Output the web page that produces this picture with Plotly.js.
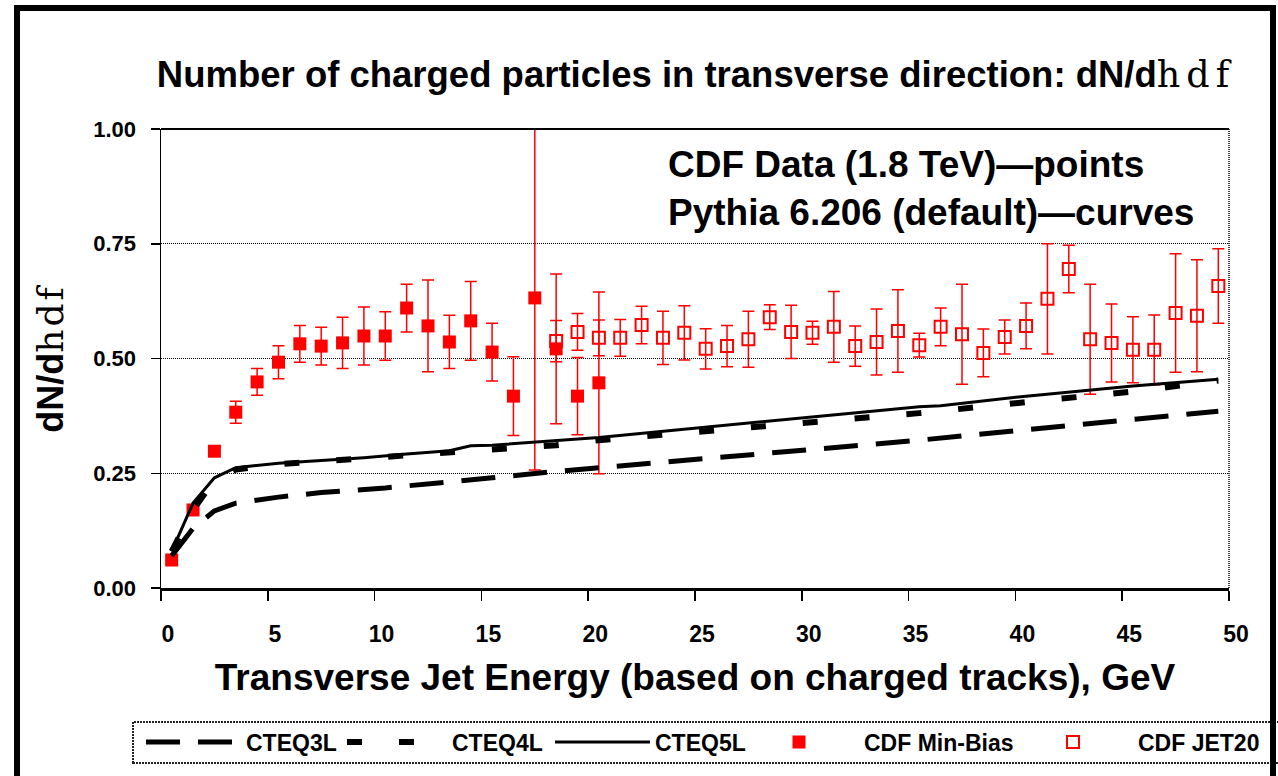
<!DOCTYPE html>
<html>
<head>
<meta charset="utf-8">
<script src="https://cdn.plot.ly/plotly-3.0.1.min.js"></script>
<style>html,body{margin:0;padding:0;background:#fff;}#chart{width:1278px;height:776px;}</style>
</head>
<body>
<div id="chart"></div>
<script>
// ---- Data ----
var minBiasX = [0.5,1.5,2.5,3.5,4.5,5.5,6.5,7.5,8.5,9.5,10.5,11.5,12.5,13.5,14.5,15.5,16.5,17.5,18.5,19.5,20.5];
var minBiasY = [0.061,0.170,0.298,0.383,0.449,0.492,0.532,0.527,0.534,0.549,0.549,0.610,0.571,0.536,0.582,0.514,0.418,0.632,0.521,0.418,0.447];
var minBiasErr = [0,0,0.008,0.024,0.029,0.036,0.040,0.041,0.056,0.063,0.053,0.052,0.100,0.058,0.086,0.063,0.086,0.375,0.163,0.084,0.198];

var jet20X = [18.5,19.5,20.5,21.5,22.5,23.5,24.5,25.5,26.5,27.5,28.5,29.5,30.5,31.5,32.5,33.5,34.5,35.5,36.5,37.5,38.5,39.5,40.5,41.5,42.5,43.5,44.5,45.5,46.5,47.5,48.5,49.5];
var jet20Y = [0.538,0.558,0.545,0.545,0.573,0.545,0.556,0.521,0.527,0.542,0.590,0.558,0.556,0.569,0.527,0.536,0.560,0.529,0.569,0.553,0.512,0.547,0.571,0.630,0.695,0.542,0.534,0.519,0.519,0.599,0.593,0.658];
var jet20Err = [0.045,0.040,0.039,0.040,0.041,0.058,0.059,0.044,0.045,0.061,0.027,0.058,0.025,0.077,0.044,0.072,0.090,0.026,0.041,0.109,0.052,0.037,0.050,0.120,0.052,0.120,0.085,0.072,0.076,0.129,0.122,0.081];

var cteq3X = [0.5,1.5,2.5,3.5,5.5,7.5,10.5,13.5,15.5,18.5,20.5,25.5,30.5,35.5,40.5,45.5,49.5];
var cteq3Y = [0.07,0.13,0.168,0.185,0.198,0.208,0.218,0.230,0.240,0.254,0.262,0.281,0.300,0.322,0.345,0.366,0.385];

var cteq4X = [0.5,1.5,2.5,3.5,5.5,7.5,9.5,11.5,13.5,15.5,18.5,20.5,25.5,30.5,35.5,40.5,45.5,49.5];
var cteq4Y = [0.08,0.17,0.235,0.258,0.270,0.276,0.282,0.290,0.296,0.303,0.311,0.322,0.342,0.360,0.381,0.405,0.428,0.452];

var cteq5X = [0.5,1.5,2.5,3.5,5.5,7.5,9.5,11.5,13.5,14.5,15.5,20.5,25.5,30.5,35.5,36.5,40.5,45.5,49.5];
var cteq5Y = [0.08,0.185,0.240,0.262,0.272,0.278,0.284,0.292,0.299,0.310,0.311,0.328,0.350,0.372,0.395,0.397,0.418,0.440,0.455];

var seriesNames = ["CTEQ3L","CTEQ4L","CTEQ5L","CDF Min-Bias","CDF JET20"];
var xTickVals = [0,5,10,15,20,25,30,35,40,45,50];
var yTickVals = [0,0.25,0.5,0.75,1.0];

var chartTitle = "<b>Number of charged particles in transverse direction: dN/d</b><span style=\"font-family:'DejaVu Serif';letter-spacing:6px\">hdf</span>";
var yTitle = "<b>dN/d</b><span style=\"font-family:'DejaVu Serif';letter-spacing:3px\">hdf</span>";
var xTitle = "<b>Transverse Jet Energy (based on charged tracks), GeV</b>";
var noteText = "<b>CDF Data (1.8 TeV)—points<br>Pythia 6.206 (default)—curves</b>";

// ---- Figure ----
var FONT = "'Liberation Sans', Arial, sans-serif";
var RED = "#ff0000";

var traces = [
  {
    type: "scatter", mode: "markers", name: seriesNames[3], legend: "legend4",
    x: minBiasX, y: minBiasY, cliponaxis: false,
    marker: {symbol: "square", size: 13, color: RED},
    error_y: {type: "data", array: minBiasErr, visible: true, color: RED, thickness: 1.5, width: 6}
  },
  {
    type: "scatter", mode: "markers", name: seriesNames[4], legend: "legend5",
    x: jet20X, y: jet20Y, cliponaxis: false,
    marker: {symbol: "square-open", size: 12, color: RED, line: {width: 2, color: RED}},
    error_y: {type: "data", array: jet20Err, visible: true, color: RED, thickness: 1.5, width: 6}
  },
  {
    type: "scatter", mode: "lines", name: seriesNames[0], legend: "legend",
    x: cteq3X, y: cteq3Y,
    line: {color: "#000", width: 5, dash: "34px,18px"}
  },
  {
    type: "scatter", mode: "lines", name: seriesNames[1], legend: "legend2",
    x: cteq4X, y: cteq4Y,
    line: {color: "#000", width: 6, dash: "15px,37px"}
  },
  {
    type: "scatter", mode: "lines", name: seriesNames[2], legend: "legend3",
    x: cteq5X, y: cteq5Y,
    line: {color: "#000", width: 3}
  }
];

// plot area in px: left 161, right 1229, top 129, bottom 588
var PL = 161, PR = 1229, PT = 129, PB = 588;
var PW = PR - PL, PH = PB - PT;
function px2x(px){ return (px - PL) / PW; }
function px2y(py){ return (PB - py) / PH; }

var legFont = {family: FONT, size: 23, color: "#000", weight: "bold"};
function mkLegend(xpx, itemw){
  return {x: px2x(xpx), xanchor: "left", y: px2y(742), yanchor: "middle",
          orientation: "h", bgcolor: "rgba(0,0,0,0)", borderwidth: 0,
          font: legFont, itemwidth: itemw, tracegroupgap: 0};
}

var layout = {
  width: 1278, height: 776,
  paper_bgcolor: "#fff", plot_bgcolor: "#fff",
  margin: {l: PL, r: 1278 - PR, t: PT, b: 776 - PB, autoexpand: false},
  font: {family: FONT, color: "#000"},
  title: {
    text: chartTitle, xref: "container", x: 696 / 1278, xanchor: "center",
    yref: "container", y: 1 - 74 / 776, yanchor: "middle",
    font: {family: FONT, size: 36.5, color: "#000"}
  },
  xaxis: {
    range: [0, 50], tickvals: xTickVals, ticktext: xTickVals.map(String),
    ticks: "outside", ticklen: 10, tickwidth: 1.5, tickcolor: "#000",
    showline: true, linecolor: "#000", linewidth: 2.5,
    showgrid: false, zeroline: false,
    tickfont: {family: FONT, size: 23, weight: "bold"},
    ticklabelshift: 7, ticklabelstandoff: 14,
    title: {text: xTitle, font: {family: FONT, size: 37}, standoff: 18}
  },
  yaxis: {
    range: [0, 1], tickvals: yTickVals, ticktext: ["0.00","0.25","0.50","0.75","1.00"],
    ticks: "outside", ticklen: 9, tickwidth: 1.5, tickcolor: "#000",
    showline: true, linecolor: "#000", linewidth: 1.5,
    showgrid: true, gridcolor: "#000", gridwidth: 1.2, griddash: "1px,1px",
    zeroline: false,
    tickfont: {family: FONT, size: 22, weight: "bold"},
    ticklabelstandoff: 10,
    title: {text: yTitle, font: {family: FONT, size: 36}, standoff: 18}
  },
  legend: mkLegend(141, 95),
  legend2: mkLegend(342, 100),
  legend3: mkLegend(550, 95),
  legend4: mkLegend(734, 120),
  legend5: mkLegend(1008, 120),
  annotations: [
    {text: noteText, xref: "paper", yref: "paper", x: px2x(666), y: px2y(142),
     xanchor: "left", yanchor: "top", align: "left", showarrow: false,
     font: {family: FONT, size: 37, color: "#000"}}
  ],
  shapes: [
    // solid top line of the plot area (at 1.00)
    {type: "line", xref: "paper", yref: "paper", x0: 0, x1: 1, y0: 1, y1: 1,
     line: {color: "#000", width: 2}},
    // dotted right edge of the plot area
    {type: "line", xref: "paper", yref: "paper", x0: 1, x1: 1, y0: 0, y1: 1,
     line: {color: "#000", width: 1.5, dash: "1px,1px"}},
    // legend frame
    {type: "rect", xref: "paper", yref: "paper",
     x0: px2x(133), x1: px2x(1290), y0: px2y(763), y1: px2y(722),
     line: {color: "#222", width: 2, dash: "2px,1px"}},
    // outer chart frame
    {type: "rect", xref: "paper", yref: "paper",
     x0: px2x(17), x1: px2x(1273), y0: px2y(800), y1: px2y(8),
     line: {color: "#000", width: 6}}
  ],
  showlegend: true
};

Plotly.newPlot("chart", traces, layout, {displayModeBar: false, staticPlot: true});
</script>
</body>
</html>
